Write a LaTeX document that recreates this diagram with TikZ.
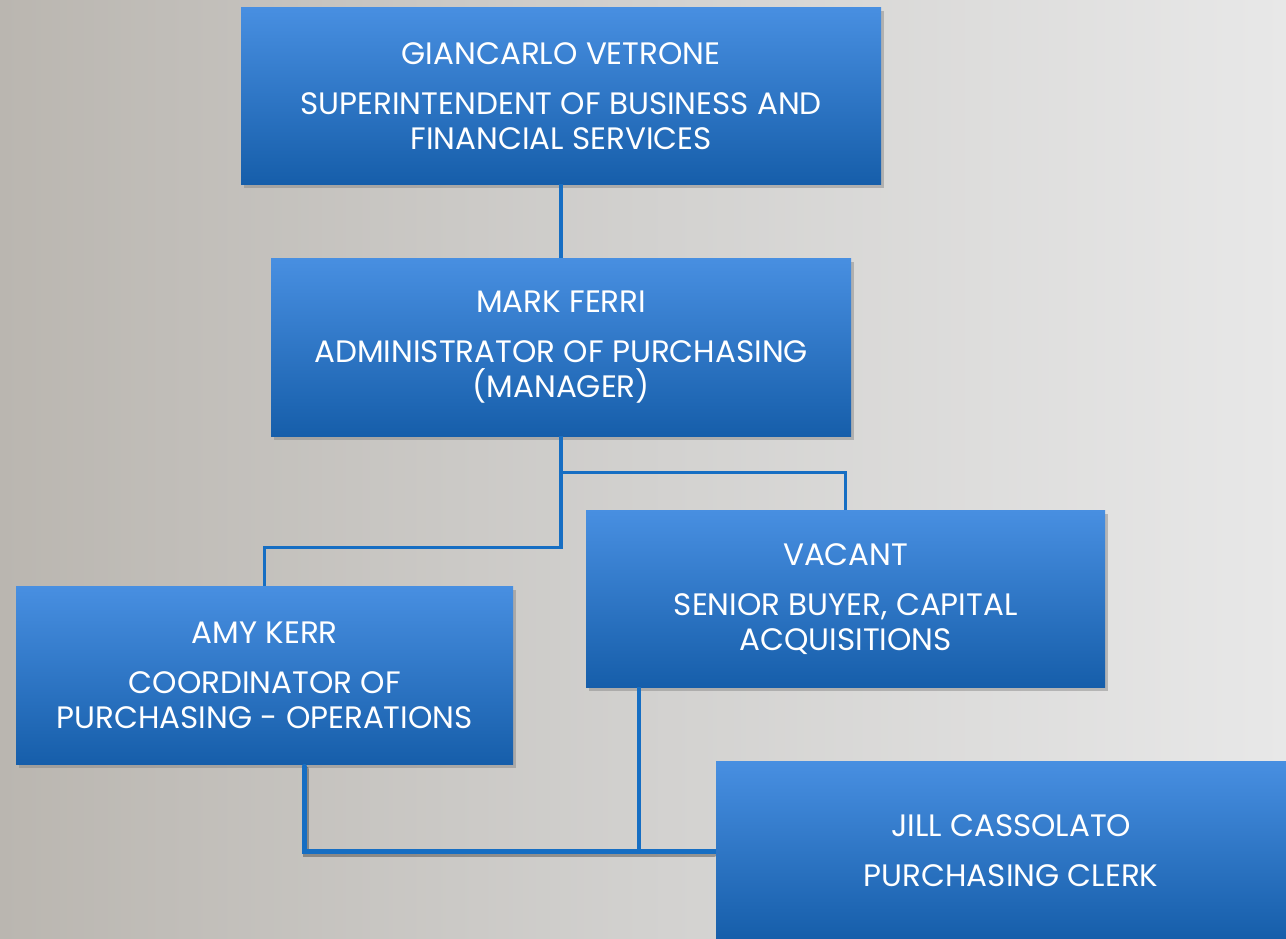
\documentclass[tikz,border=0pt]{standalone}
\usepackage{fontspec}
\setmainfont{Poppins}
\usetikzlibrary{shadows,calc}
\definecolor{boxtop}{RGB}{72,143,225}
\definecolor{boxbot}{RGB}{22,94,170}
\definecolor{linecol}{RGB}{22,110,195}
\definecolor{bgleft}{RGB}{186,182,176}
\definecolor{bgmid}{RGB}{210,209,207}
\definecolor{bgright}{RGB}{232,232,232}
\tikzset{
  orgbox/.style={rectangle, anchor=north west, inner sep=0pt,
    top color=boxtop, bottom color=boxbot, draw=none,
    text=white, align=center,
    font=\fontsize{31}{35}\selectfont,
    drop shadow={opacity=0.45, shadow xshift=3pt, shadow yshift=-4pt}},
  conn/.style={draw=linecol, line width=3.5pt},
  connb/.style={draw=linecol, line width=5pt, line cap=round},
  connshadow/.style={draw=black, opacity=0.3, line width=6pt, line cap=round},
}
\begin{document}
\begin{tikzpicture}[x=1pt,y=-1pt]
\shade[left color=bgleft, right color=bgright, middle color=bgmid] (0,0) rectangle (1286,938);
\useasboundingbox (0,0) rectangle (1286,938);
\node[orgbox, minimum width=640pt, minimum height=177pt] (top) at (241,7)
  {GIANCARLO VETRONE\\[15pt]SUPERINTENDENT OF BUSINESS AND\\FINANCIAL SERVICES};
\node[orgbox, minimum width=580pt, minimum height=178pt] (mark) at (271,258)
  {MARK FERRI\\[15pt]ADMINISTRATOR OF PURCHASING\\(MANAGER)};
\node[orgbox, minimum width=519pt, minimum height=177pt] (vac) at (586,510)
  {VACANT\\[15pt]SENIOR BUYER, CAPITAL\\ACQUISITIONS};
\node[orgbox, minimum width=497pt, minimum height=178pt] (amy) at (16,586)
  {AMY KERR\\[15pt]COORDINATOR OF\\PURCHASING - OPERATIONS};
\draw[conn] (top.south) -- (mark.north);
\draw[conn] (mark.south) -- ++(0,36) -| (vac.north);
\draw[conn] (mark.south) -- ++(0,111) -| (amy.north);
\draw[conn] ([xshift=-206.5pt]vac.south) -- ++(0,163);
\coordinate (amyout) at ([xshift=39.5pt,yshift=-2pt]amy.south);
\coordinate (corner) at (amyout |- 0,851);
\coordinate (jillin) at (716,851);
\draw[connshadow] ([xshift=2pt,yshift=-3pt]amyout) -- ([xshift=2pt,yshift=-3pt]corner) -- ([xshift=-2pt,yshift=-3pt]jillin);
\draw[connb] (amyout) -- (corner) -- (jillin);
\node[orgbox, minimum width=590pt, minimum height=178pt] (jill) at (716,761)
  {JILL CASSOLATO\\[15pt]PURCHASING CLERK};
\end{tikzpicture}
\end{document}
